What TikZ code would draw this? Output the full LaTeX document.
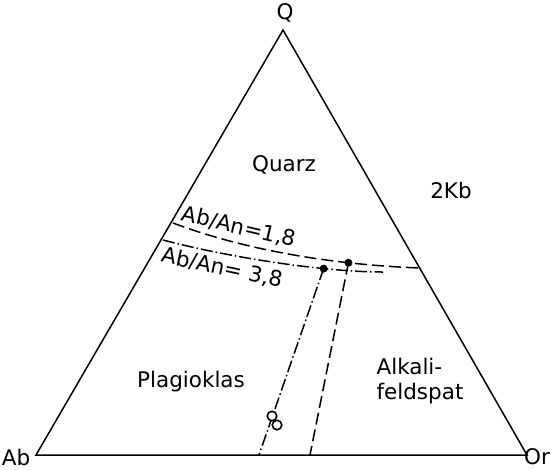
\documentclass[tikz,border=0pt]{standalone}
\usepackage{fontspec}
\setmainfont{DejaVu Sans}
\begin{document}
\begin{tikzpicture}[x=1pt,y=-1pt]
\tikzset{lbl/.style={font=\fontsize{21.5}{25}\selectfont,inner sep=0pt},
  dot/.style={circle,fill=black,inner sep=0pt,minimum size=8pt},
  ring/.style={circle,draw=black,line width=1.6pt,inner sep=0pt,minimum size=9.5pt},
  dashline/.style={line width=1.5pt,dash pattern=on 12pt off 5pt},
  dotline/.style={line width=1.5pt,dash pattern=on 12pt off 3pt on 1.5pt off 3pt}}
\useasboundingbox (0,0) rectangle (553,469);
\coordinate (ab) at (36,455);
\coordinate (or) at (527,455);
\coordinate (q) at (283,30);
\draw[black,line width=1.5pt,line join=miter] (ab) -- (or) -- (q) -- cycle;
% Ab/An boundaries
\coordinate (l1) at (173,223);
\coordinate (r1) at (420,268);
\coordinate (l2) at (163,240);
\coordinate (r2) at (383,272);
\draw[dashline] (l1) .. controls (250,252) and (340,265) .. (r1) node[pos=0.71,dot] (p2) {};
\draw[dotline] (l2) .. controls (223,256) and (320,272) .. (r2) node[pos=0.72,dot] (p1) {};
\coordinate (f1) at (259,455);
\coordinate (f2) at (310,455);
\draw[dotline] (p1.center) -- (f1);
\draw[dashline] (p2.center) -- (f2);
\node[ring,fill=white] (o1) at (272,416) {};
\node[ring,fill=white] (o2) at (277,425) {};
% labels
\node[lbl] (qlbl) at (285,13) {Q};
\node[lbl] (ablbl) at (16,457) {Ab};
\node[lbl] (orlbl) at (537,457) {Or};
\node[lbl] (quarz) at (284,165) {Quarz};
\node[lbl] (kb) at (451,190) {2Kb};
\node[lbl,rotate=-13] (an1) at (239,227) {Ab/An=1,8};
\node[lbl,rotate=-12] (an2) at (222,268) {Ab/An= 3,8};
\node[lbl] (plag) at (191,382) {Plagioklas};
\node[lbl,align=left] (alk) at (420,381) {Alkali-\\feldspat};
\end{tikzpicture}
\end{document}
